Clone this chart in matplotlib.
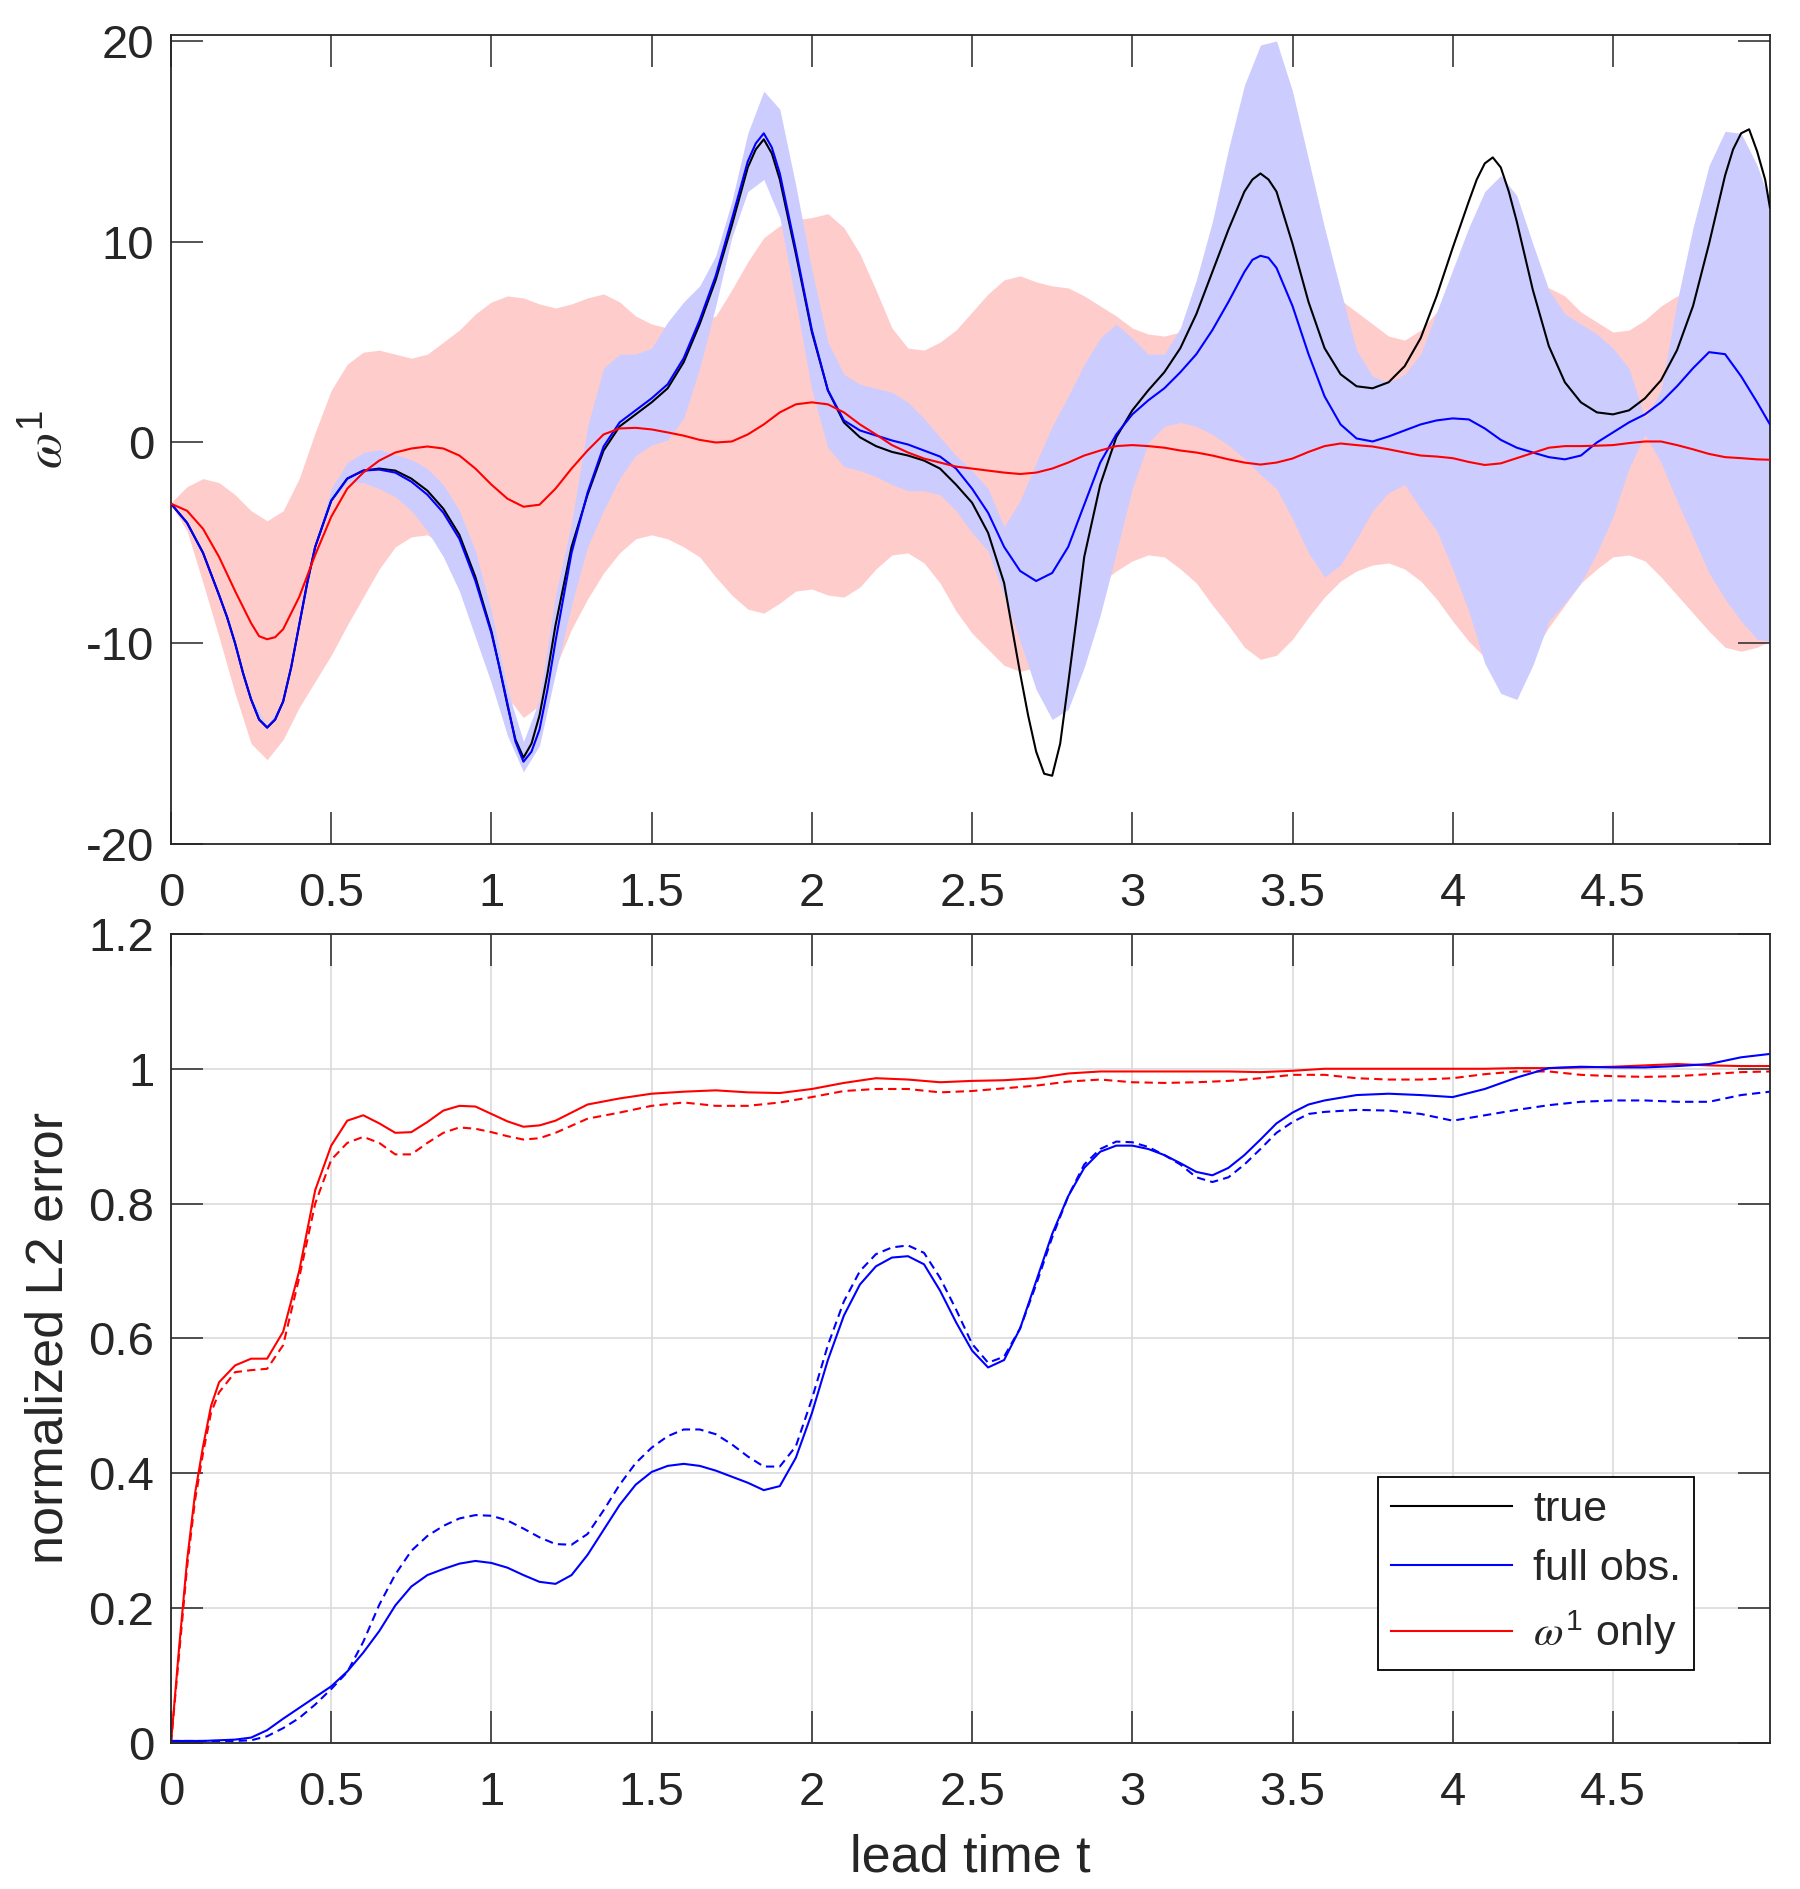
import numpy as np
import matplotlib
matplotlib.use("Agg")
import matplotlib.pyplot as plt
from matplotlib.lines import Line2D
from matplotlib.ticker import FormatStrFormatter

plt.rcParams['font.family'] = ['Liberation Sans', 'DejaVu Sans']
plt.rcParams['mathtext.fontset'] = 'custom'
plt.rcParams['mathtext.rm'] = 'Liberation Sans'
plt.rcParams['mathtext.it'] = 'STIXGeneral:italic'
plt.rcParams['axes.unicode_minus'] = False

# ---- top panel: trajectories of omega^1 (sampled every 0.05) ----
t_top = np.append(np.arange(0, 4.951, 0.05), 4.99)

true_w = [-3.05, -4.0, -5.5, -7.6, -10.0, -12.8, -14.2, -12.9, -9.1, -5.2,
          -2.9, -1.8, -1.4, -1.3, -1.4, -1.8, -2.4, -3.3, -4.6, -6.7,
          -9.4, -13.1, -15.7, -13.6, -9.1, -5.2, -2.6, -0.4, 0.8, 1.4,
          2.0, 2.7, 4.0, 5.9, 8.1, 10.8, 13.7, 15.1, 13.1, 9.4,
          5.5, 2.6, 1.0, 0.26, -0.18, -0.47, -0.65, -0.9, -1.3, -2.1,
          -3.0, -4.5, -7.0, -11.5, -15.4, -16.6, -12.0, -5.7, -2.1, 0.26,
          1.6, 2.6, 3.5, 4.7, 6.4, 8.5, 10.6, 12.5, 13.4, 12.5,
          9.9, 7.0, 4.7, 3.4, 2.8, 2.7, 3.0, 3.8, 5.2, 7.3,
          9.7, 12.0, 13.9, 13.7, 11.0, 7.6, 4.8, 3.0, 2.0, 1.5,
          1.4, 1.6, 2.2, 3.1, 4.6, 6.8, 9.9, 13.3, 15.4, 14.5,
          11.7]
# extra readings around the sharp extrema
true_t_extra = [0.175, 0.225, 0.275, 0.325, 0.375, 0.425, 1.025, 1.075, 1.125, 1.175,
                1.825, 1.875, 2.675, 2.725, 2.775, 2.825, 3.375, 3.425,
                4.075, 4.125, 4.175, 4.875, 4.925, 4.975]
true_w_extra = [-8.7, -11.5, -13.8, -13.8, -11.2, -7.0, -11.2, -14.8, -15.0, -11.5,
                14.6, 14.4, -13.6, -16.5, -15.0, -8.9, 13.1, 13.1,
                13.1, 14.2, 12.5, 14.6, 15.6, 13.1]

full_w = [-3.05, -4.0, -5.5, -7.6, -10.0, -12.8, -14.2, -12.9, -9.1, -5.2,
          -2.9, -1.8, -1.4, -1.35, -1.5, -1.95, -2.6, -3.5, -4.8, -6.9,
          -9.5, -13.0, -15.9, -14.3, -9.9, -5.5, -2.5, -0.2, 1.0, 1.6,
          2.2, 2.9, 4.2, 6.1, 8.3, 11.1, 14.0, 15.4, 13.4, 9.6,
          5.6, 2.6, 1.1, 0.6, 0.35, 0.1, -0.1, -0.4, -0.7, -1.3,
          -2.3, -3.5, -5.2, -6.4, -6.9, -6.5, -5.2, -3.1, -1.0, 0.4,
          1.4, 2.1, 2.7, 3.5, 4.4, 5.6, 7.0, 8.5, 9.3, 8.7,
          6.8, 4.4, 2.3, 0.9, 0.2, 0.05, 0.3, 0.6, 0.9, 1.1,
          1.2, 1.15, 0.7, 0.13, -0.26, -0.5, -0.73, -0.84, -0.65, 0.0,
          0.5, 1.0, 1.4, 2.0, 2.8, 3.7, 4.5, 4.4, 3.3, 2.0,
          0.9]
full_t_extra = [0.175, 0.225, 0.275, 0.325, 0.375, 0.425, 1.025, 1.075, 1.125, 1.175,
                1.825, 1.875, 3.375, 3.425]
full_w_extra = [-8.7, -11.5, -13.8, -13.8, -11.2, -7.0, -11.2, -14.9, -15.4, -12.3,
                14.9, 14.7, 9.1, 9.2]

w1_w = [-3.05, -3.4, -4.3, -5.7, -7.4, -9.0, -9.8, -9.3, -7.7, -5.6,
        -3.7, -2.3, -1.5, -0.9, -0.5, -0.3, -0.2, -0.3, -0.65, -1.3,
        -2.1, -2.8, -3.2, -3.1, -2.3, -1.3, -0.4, 0.4, 0.7, 0.73,
        0.65, 0.5, 0.34, 0.13, 0.0, 0.05, 0.4, 0.9, 1.5, 1.9,
        2.0, 1.9, 1.5, 0.9, 0.4, -0.13, -0.5, -0.8, -1.0, -1.2,
        -1.3, -1.4, -1.5, -1.57, -1.5, -1.3, -1.0, -0.65, -0.4, -0.18,
        -0.13, -0.18, -0.26, -0.4, -0.5, -0.65, -0.84, -1.0, -1.1, -1.0,
        -0.8, -0.47, -0.18, -0.05, -0.13, -0.2, -0.34, -0.5, -0.65, -0.7,
        -0.78, -0.97, -1.12, -1.04, -0.78, -0.52, -0.26, -0.18, -0.18, -0.16,
        -0.13, -0.03, 0.05, 0.05, -0.13, -0.34, -0.57, -0.73, -0.78, -0.84,
        -0.86]
w1_t_extra = [0.275, 0.325]
w1_w_extra = [-9.65, -9.7]

full_hi = [-3.0, -3.9, -5.4, -7.5, -9.9, -12.7, -14.1, -12.8, -9.0, -5.0,
           -2.3, -1.0, -0.5, -0.35, -0.6, -0.85, -1.3, -2.1, -3.4, -5.4,
           -8.4, -12.3, -14.9, -12.8, -7.6, -4.0, 0.8, 3.7, 4.4, 4.4,
           4.7, 6.0, 7.0, 7.8, 9.3, 12.0, 15.4, 17.5, 16.6, 12.8,
           8.6, 5.0, 3.4, 2.9, 2.7, 2.5, 2.0, 1.2, 0.26, -0.65,
           -1.4, -2.3, -4.2, -2.9, -1.0, 0.8, 2.3, 3.9, 5.2, 5.9,
           5.2, 4.4, 4.4, 5.7, 8.1, 11.0, 14.6, 17.8, 19.8, 20.0,
           17.5, 14.1, 10.7, 7.6, 4.6, 3.3, 3.0, 3.4, 4.4, 6.5,
           8.6, 10.7, 12.5, 13.3, 12.3, 9.9, 7.6, 6.4, 5.9, 5.4,
           4.7, 3.7, 1.2, 2.6, 7.0, 10.7, 13.8, 15.5, 15.4, 13.8,
           12.0]

full_lo = [-3.1, -4.1, -5.6, -7.7, -10.1, -12.9, -14.3, -13.0, -9.2, -5.3,
           -3.0, -2.0, -2.0, -2.3, -2.7, -3.4, -4.4, -5.7, -7.4, -9.7,
           -12.0, -14.6, -16.4, -15.1, -11.5, -8.1, -5.2, -3.4, -1.8, -0.65,
           -0.13, 0.13, 1.2, 3.7, 6.8, 10.2, 12.5, 13.1, 11.2, 7.0,
           2.6, -0.26, -1.2, -1.4, -1.7, -2.1, -2.4, -2.4, -2.6, -3.4,
           -4.5, -5.4, -7.6, -9.9, -12.3, -13.8, -13.3, -11.2, -8.6, -5.5,
           -2.3, 0.0, 0.8, 1.0, 0.8, 0.4, -0.13, -0.8, -1.6, -2.3,
           -3.8, -5.5, -6.7, -6.1, -4.8, -3.4, -2.5, -2.1, -3.3, -4.4,
           -6.3, -8.4, -11.0, -12.5, -12.8, -11.1, -8.9, -8.0, -7.0, -5.5,
           -3.7, -1.3, 0.4, -1.0, -2.9, -4.7, -6.5, -7.8, -8.9, -9.8,
           -9.9]

w1_hi = [-3.0, -2.2, -1.8, -2.0, -2.6, -3.4, -3.9, -3.4, -1.8, 0.5,
         2.6, 3.9, 4.5, 4.6, 4.4, 4.2, 4.4, 5.0, 5.6, 6.4,
         7.0, 7.3, 7.2, 6.9, 6.7, 6.9, 7.2, 7.4, 7.0, 6.3,
         5.9, 5.7, 5.8, 6.0, 6.3, 7.6, 9.0, 10.2, 10.8, 11.1,
         11.2, 11.4, 10.7, 9.4, 7.6, 5.7, 4.7, 4.6, 5.0, 5.6,
         6.5, 7.4, 8.1, 8.3, 8.0, 7.8, 7.7, 7.3, 6.8, 6.3,
         5.7, 5.4, 5.3, 5.5, 6.0, 6.5, 7.0, 7.4, 7.8, 8.0,
         8.0, 7.9, 7.6, 7.1, 6.5, 5.9, 5.3, 5.1, 5.6, 6.5,
         7.3, 7.7, 7.9, 8.1, 8.1, 7.8, 7.7, 7.3, 6.5, 6.0,
         5.5, 5.6, 6.1, 6.8, 7.3, 7.3, 7.0, 6.8, 6.5, 6.2,
         6.0]

w1_lo = [-3.1, -4.4, -7.0, -9.7, -12.5, -15.0, -15.8, -14.8, -13.2, -11.9,
         -10.6, -9.1, -7.7, -6.3, -5.2, -4.7, -4.6, -5.1, -6.5, -8.6,
         -10.7, -12.7, -13.7, -13.1, -11.2, -9.3, -7.8, -6.5, -5.5, -4.8,
         -4.6, -4.8, -5.2, -5.7, -6.7, -7.6, -8.3, -8.5, -8.0, -7.4,
         -7.3, -7.6, -7.7, -7.2, -6.3, -5.6, -5.5, -6.0, -7.0, -8.4,
         -9.5, -10.3, -11.1, -11.4, -11.2, -10.3, -9.1, -8.0, -7.0, -6.4,
         -5.9, -5.6, -5.7, -6.3, -7.0, -8.1, -9.1, -10.2, -10.8, -10.6,
         -9.8, -8.7, -7.7, -6.9, -6.4, -6.1, -6.0, -6.3, -6.9, -7.8,
         -8.9, -9.9, -10.7, -11.2, -11.3, -10.5, -9.2, -8.1, -7.0, -6.3,
         -5.7, -5.6, -5.9, -6.7, -7.6, -8.5, -9.4, -10.2, -10.4, -10.2,
         -9.9]

# ---- bottom panel: normalized L2 error ----
t_red = [0, 0.025, 0.05, 0.075, 0.1, 0.125, 0.15,
         0.2, 0.25, 0.3, 0.35, 0.4, 0.45, 0.5, 0.55, 0.6, 0.65, 0.7,
         0.75, 0.8, 0.85, 0.9, 0.95, 1.0, 1.05, 1.1, 1.15, 1.2,
         1.3, 1.4, 1.5, 1.6, 1.7, 1.8, 1.9, 2.0, 2.1, 2.2,
         2.3, 2.4, 2.5, 2.6, 2.7, 2.8, 2.9, 3.0, 3.1, 3.2, 3.3, 3.4,
         3.5, 3.6, 3.7, 3.8, 3.9, 4.0, 4.1, 4.2, 4.3, 4.4, 4.5, 4.6,
         4.7, 4.8, 4.9, 4.99]
err_w1 = [0, 0.14, 0.27, 0.37, 0.44, 0.50, 0.535,
          0.56, 0.57, 0.57, 0.61, 0.70, 0.82, 0.886, 0.923, 0.931, 0.919, 0.905,
          0.906, 0.921, 0.938, 0.945, 0.944, 0.933, 0.922, 0.914, 0.916, 0.923,
          0.947, 0.956, 0.963, 0.966, 0.968, 0.965, 0.964, 0.970, 0.979, 0.986,
          0.984, 0.980, 0.982, 0.983, 0.986, 0.993, 0.996, 0.996, 0.996, 0.996, 0.996, 0.995,
          0.997, 1.0, 1.0, 1.0, 1.0, 1.0, 1.0, 1.001, 1.001, 1.002, 1.003, 1.005,
          1.007, 1.005, 1.004, 1.004]
err_w1_dash = [0, 0.13, 0.26, 0.36, 0.43, 0.49, 0.52,
               0.55, 0.553, 0.555, 0.59, 0.69, 0.80, 0.865, 0.89, 0.899, 0.89, 0.873,
               0.873, 0.89, 0.905, 0.913, 0.911, 0.906, 0.90, 0.895, 0.897, 0.905,
               0.926, 0.935, 0.945, 0.95, 0.945, 0.945, 0.95, 0.958, 0.967, 0.970,
               0.970, 0.965, 0.967, 0.971, 0.975, 0.981, 0.984, 0.980, 0.979, 0.980, 0.982, 0.986,
               0.991, 0.991, 0.986, 0.984, 0.984, 0.986, 0.992, 0.996, 0.996, 0.991, 0.989, 0.988,
               0.989, 0.992, 0.995, 0.996]

t_blue = [0, 0.1, 0.2,
          0.25, 0.3, 0.35, 0.4, 0.45, 0.5, 0.55, 0.6, 0.65, 0.7, 0.75, 0.8,
          0.85, 0.9, 0.95, 1.0, 1.05, 1.1, 1.15, 1.2, 1.25, 1.3, 1.35, 1.4,
          1.45, 1.5, 1.55, 1.6, 1.65, 1.7, 1.75, 1.8, 1.85, 1.9, 1.95, 2.0,
          2.05, 2.1, 2.15, 2.2, 2.25, 2.3, 2.35, 2.4, 2.45, 2.5, 2.55, 2.6,
          2.65, 2.7, 2.75, 2.8, 2.85, 2.9, 2.95, 3.0, 3.05, 3.1, 3.15, 3.2,
          3.25, 3.3, 3.35, 3.4, 3.45, 3.5, 3.55, 3.6,
          3.7, 3.8, 3.9, 4.0, 4.1, 4.2, 4.3, 4.4, 4.5, 4.6, 4.7, 4.8, 4.9, 4.99]
err_full = [0.003, 0.003, 0.005,
            0.008, 0.019, 0.036, 0.052, 0.068, 0.084, 0.106, 0.134, 0.166, 0.204, 0.232, 0.249,
            0.258, 0.266, 0.270, 0.267, 0.260, 0.249, 0.239, 0.236, 0.249, 0.279, 0.316, 0.353,
            0.383, 0.402, 0.411, 0.414, 0.411, 0.404, 0.395, 0.386, 0.375, 0.381, 0.423, 0.489,
            0.568, 0.634, 0.680, 0.707, 0.720, 0.722, 0.710, 0.671, 0.624, 0.582, 0.557, 0.568,
            0.615, 0.685, 0.755, 0.811, 0.853, 0.877, 0.886, 0.886, 0.881, 0.872, 0.860, 0.847,
            0.842, 0.853, 0.872, 0.895, 0.919, 0.935, 0.947, 0.953,
            0.961, 0.963, 0.961, 0.958, 0.970, 0.987, 1.001, 1.003, 1.002, 1.002, 1.004, 1.007, 1.017, 1.022]
err_full_dash = [0.003, 0.003, 0.003,
                 0.004, 0.010, 0.022, 0.037, 0.057, 0.080, 0.105, 0.150, 0.205, 0.250, 0.285, 0.307,
                 0.322, 0.333, 0.338, 0.337, 0.330, 0.318, 0.305, 0.295, 0.294, 0.310, 0.345, 0.383,
                 0.415, 0.438, 0.455, 0.465, 0.465, 0.458, 0.443, 0.425, 0.410, 0.410, 0.440, 0.510,
                 0.590, 0.655, 0.700, 0.725, 0.735, 0.738, 0.727, 0.690, 0.643, 0.592, 0.564, 0.573,
                 0.615, 0.680, 0.750, 0.811, 0.858, 0.881, 0.892, 0.891, 0.884, 0.872, 0.858, 0.839,
                 0.832, 0.839, 0.858, 0.881, 0.905, 0.921, 0.933, 0.936,
                 0.939, 0.938, 0.933, 0.923, 0.931, 0.939, 0.946, 0.951, 0.953, 0.953, 0.951, 0.951, 0.961, 0.966]

legend_labels = ['true', 'full obs.', r'$\omega^1$ only']

DARK = '#262626'
PINK = '#FFCCCC'
LIGHTBLUE = '#CCCCFF'
TICK_FS = 34
LABEL_FS = 37.5
LEGEND_FS = 31


def merged(t, v, t_extra, v_extra):
    """Put the extra readings into the regular series, sorted by time."""
    tt = np.concatenate([t, t_extra])
    vv = np.concatenate([v, v_extra])
    order = np.argsort(tt)
    return tt[order], vv[order]


def style_axes(ax):
    for sp in ax.spines.values():
        sp.set_color(DARK)
        sp.set_linewidth(1.3)
    ax.tick_params(direction='in', length=23, width=1.1, colors=DARK,
                   labelsize=TICK_FS, top=True, right=True)
    ax.tick_params(axis='x', pad=20.5)
    ax.tick_params(axis='y', pad=12)
    ax.xaxis.set_major_formatter(FormatStrFormatter('%g'))
    ax.yaxis.set_major_formatter(FormatStrFormatter('%g'))
    ax.set_xlim(0, 4.99)
    ax.set_xticks(np.arange(0, 4.6, 0.5))


fig = plt.figure(figsize=(18, 18.89), dpi=100)
ax1 = fig.add_axes([0.095, 0.5532, 0.8883, 0.4283])
ax2 = fig.add_axes([0.095, 0.0773, 0.8883, 0.4283])

# top panel
ax1.fill_between(t_top, w1_lo, w1_hi, color=PINK, lw=0, zorder=1)
ax1.fill_between(t_top, full_lo, full_hi, color=LIGHTBLUE, lw=0, zorder=2)
ax1.plot(*merged(t_top, true_w, true_t_extra, true_w_extra), color='k', lw=1.5, zorder=3)
ax1.plot(*merged(t_top, full_w, full_t_extra, full_w_extra), color='b', lw=1.5, zorder=4)
ax1.plot(*merged(t_top, w1_w, w1_t_extra, w1_w_extra), color='r', lw=1.5, zorder=5)
style_axes(ax1)
ax1.set_ylim(-20, 20.3)
ax1.set_yticks([-20, -10, 0, 10, 20])
ax1.set_ylabel(r'$\omega^1$', fontsize=LABEL_FS, color=DARK)
ax1.yaxis.set_label_coords(-0.061, 0.5)

# bottom panel
ax2.grid(True, color='#DADADA', lw=1.2)
ax2.set_axisbelow(True)
ax2.plot(t_red, err_w1, color='r', lw=1.5)
ax2.plot(t_red, err_w1_dash, color='r', lw=1.5, dashes=(4, 2.5))
ax2.plot(t_blue, err_full, color='b', lw=1.5)
ax2.plot(t_blue, err_full_dash, color='b', lw=1.5, dashes=(4, 2.5))
style_axes(ax2)
ax2.set_ylim(0, 1.2)
ax2.set_yticks(np.arange(0, 1.21, 0.2))
ax2.set_ylabel('normalized L2 error', fontsize=LABEL_FS, color=DARK)
ax2.yaxis.set_label_coords(-0.061, 0.5)
ax2.set_xlabel('lead time t', fontsize=LABEL_FS, color=DARK)
ax2.xaxis.set_label_coords(0.5, -0.112)

handles = [Line2D([], [], color=c, lw=1.5) for c in ('k', 'b', 'r')]
leg = ax2.legend(handles, legend_labels, loc='lower left',
                 bbox_to_anchor=(0.755, 0.09), fontsize=LEGEND_FS,
                 handlelength=2.8, handletextpad=0.5, labelspacing=0.45,
                 borderpad=0.3, borderaxespad=0, fancybox=False,
                 framealpha=1, edgecolor='k')
leg.get_frame().set_linewidth(1.3)
for txt in leg.get_texts():
    txt.set_color(DARK)

fig.savefig('out.png', dpi=100, facecolor='white')
